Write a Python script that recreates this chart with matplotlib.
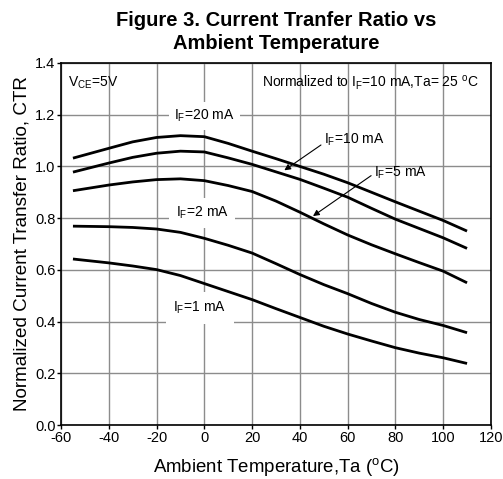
import matplotlib
matplotlib.use("Agg")
import matplotlib.pyplot as plt

plt.rcParams['font.family'] = ['Liberation Sans', 'DejaVu Sans']
plt.rcParams['mathtext.fontset'] = 'custom'
plt.rcParams['mathtext.rm'] = 'Liberation Sans'
plt.rcParams['mathtext.it'] = 'Liberation Sans:italic'
plt.rcParams['mathtext.bf'] = 'Liberation Sans:bold'

temps = [-55, -40, -30, -20, -10, 0, 10, 20, 30, 40, 50, 60, 70, 80, 90, 100, 110]
ctr_20mA = [1.032, 1.070, 1.095, 1.112, 1.119, 1.115, 1.089, 1.059, 1.030, 1.000, 0.970, 0.937, 0.900, 0.863, 0.827, 0.791, 0.750]
ctr_10mA = [0.978, 1.013, 1.035, 1.051, 1.059, 1.056, 1.033, 1.008, 0.979, 0.950, 0.916, 0.881, 0.838, 0.796, 0.760, 0.724, 0.683]
ctr_5mA = [0.906, 0.928, 0.940, 0.949, 0.952, 0.945, 0.926, 0.903, 0.866, 0.823, 0.778, 0.735, 0.697, 0.662, 0.628, 0.595, 0.550]
ctr_2mA = [0.769, 0.767, 0.764, 0.758, 0.745, 0.722, 0.695, 0.665, 0.624, 0.582, 0.543, 0.508, 0.470, 0.436, 0.408, 0.385, 0.357]
ctr_1mA = [0.642, 0.627, 0.615, 0.601, 0.578, 0.547, 0.516, 0.485, 0.450, 0.416, 0.382, 0.352, 0.325, 0.299, 0.278, 0.260, 0.238]

x_ticks = [-60, -40, -20, 0, 20, 40, 60, 80, 100, 120]
y_ticks = [0.0, 0.2, 0.4, 0.6, 0.8, 1.0, 1.2, 1.4]

fig = plt.figure(figsize=(5.03, 4.79), dpi=100)
ax = fig.add_axes([0.1213, 0.1127, 0.8547, 0.7558])
ax.set_axisbelow(True)

for series in (ctr_20mA, ctr_10mA, ctr_5mA, ctr_2mA, ctr_1mA):
    ax.plot(temps, series, color='black', lw=2.0, zorder=3,
            solid_joinstyle='round', solid_capstyle='butt')

ax.set_xlim(-60, 120)
ax.set_ylim(0.0, 1.4)
ax.set_xticks(x_ticks)
ax.set_yticks(y_ticks)
ax.set_xticklabels([str(t) for t in x_ticks])
ax.set_yticklabels([f"{t:.1f}" for t in y_ticks])
ax.grid(True, color='#8c8c8c', lw=1.0)
ax.tick_params(direction='out', length=3, width=1, labelsize=10.5, pad=1)
for s in ax.spines.values():
    s.set_color('black')
    s.set_linewidth(1.2)
    s.set_zorder(5)

lbl_kw = dict(fontsize=10, ha='center', va='center', zorder=2)
ax.text(0, 1.195, r'I$_\mathregular{F}$=20 mA', bbox=dict(facecolor='white', edgecolor='none', pad=4), **lbl_kw)
ax.text(-1, 0.82, r'I$_\mathregular{F}$=2 mA', bbox=dict(facecolor='white', edgecolor='none', pad=5), **lbl_kw)
ax.text(-2, 0.452, r'I$_\mathregular{F}$=1 mA', bbox=dict(facecolor='white', edgecolor='none', pad=5.5), **lbl_kw)

ax.annotate(r'I$_\mathregular{F}$=10 mA', xy=(33.5, 0.985), xytext=(50, 1.103),
            fontsize=10, ha='left', va='center', zorder=4,
            arrowprops=dict(arrowstyle='-|>', color='black', lw=0.8, mutation_scale=9,
                            shrinkA=0, shrinkB=0, relpos=(0, 0.3)))
ax.annotate(r'I$_\mathregular{F}$=5 mA', xy=(45.5, 0.808), xytext=(71, 0.975),
            fontsize=10, ha='left', va='center', zorder=4,
            arrowprops=dict(arrowstyle='-|>', color='black', lw=0.8, mutation_scale=9,
                            shrinkA=0, shrinkB=0, relpos=(0, 0.45)))

ax.text(-57, 1.325, r'V$_\mathregular{CE}$=5V', fontsize=10, ha='left', va='center', zorder=4)
ax.text(115, 1.325, r'Normalized to I$_\mathregular{F}$=10 mA,Ta= 25 $^\mathregular{o}$C',
        fontsize=10, ha='right', va='center', zorder=4)

ax.set_xlabel(r'Ambient Temperature,Ta ($^\mathregular{o}$C)', fontsize=13.4, labelpad=8)
ax.set_ylabel('Normalized Current Transfer Ratio, CTR', fontsize=13.6, labelpad=3)
fig.text(0.55, 0.933, 'Figure 3. Current Tranfer Ratio vs\nAmbient Temperature',
         ha='center', va='center', fontsize=14.5, fontweight='bold', linespacing=1.25)

fig.savefig('out.png', dpi=100)
